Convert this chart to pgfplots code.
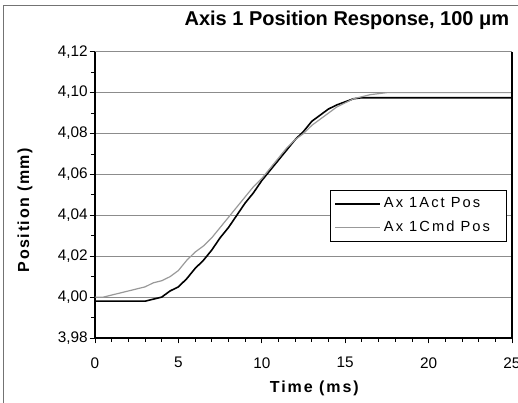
\documentclass[border=0pt]{standalone}
\usepackage{pgfplots}
\pgfplotsset{compat=1.18}
\usepackage{fontspec}
\setmainfont{Liberation Sans}

\begin{document}
\begin{tikzpicture}
\begin{axis}[
  name=ax,
  width=312.75pt, height=214.7pt, scale only axis,
  xmin=0, xmax=25, ymin=3.98, ymax=4.12,
  xtick={0,5,10,15,20,25},
  ytick={3.98,4.00,4.02,4.04,4.06,4.08,4.10,4.12},
  minor x tick num=4, minor y tick num=1,
  axis lines=left, axis line style={-, black, line width=0.8pt},
  tick align=outside, major tick length=4pt, minor tick length=3pt,
  tick style={black, line width=0.6pt},
  ymajorgrids, major grid style={black!45, line width=0.6pt},
  /pgf/number format/assume math mode=true,
  yticklabel style={/pgf/number format/fixed, /pgf/number format/precision=2,
    /pgf/number format/fixed zerofill, /pgf/number format/use comma, xshift=2pt},
  xticklabel style={yshift=-7pt},
  tick label style={font=\fontsize{11.5}{13}\selectfont},
  title={Axis 1 Position Response, 100 μm},
  title style={at={(0.604,1.082)}, anchor=center, font=\bfseries\fontsize{15}{18}\selectfont},
  xlabel={Time (ms)},
  xlabel style={at={(0.526,-0.175)}, anchor=center, font=\bfseries\fontsize{12}{14}\selectfont\addfontfeature{LetterSpace=12}},
  ylabel={Position (mm)},
  ylabel style={at={(-0.168,0.447)}, anchor=center, font=\bfseries\fontsize{12}{14}\selectfont\addfontfeature{LetterSpace=10}},
  legend style={at={(rel axis cs:0.988,0.517)}, anchor=north east, draw=black, line width=0.6pt,
    fill=white, font=\fontsize{11}{13}\selectfont\addfontfeature{LetterSpace=14},
    inner xsep=3pt, inner ysep=3.5pt, row sep=4.5pt},
  legend cell align=left,
  legend image code/.code={\draw[#1] (0pt,0pt) -- (34pt,0pt);},
  clip=false,
]
% Ax1 actual position
\addplot[black, line width=1.2pt] coordinates {
  (0,3.998) (3.0,3.998) (3.5,3.999) (4.0,4.000) (4.5,4.003) (5.0,4.005)
  (5.5,4.009) (6.0,4.014) (6.5,4.018) (7.0,4.023) (7.5,4.029) (8.0,4.034)
  (8.5,4.040) (9.0,4.046) (9.5,4.051) (10.0,4.057) (10.5,4.062) (11.0,4.067)
  (11.5,4.072) (12.0,4.077) (12.5,4.081) (13.0,4.086) (13.5,4.089) (14.0,4.092)
  (14.5,4.094) (15.0,4.0955) (15.5,4.097) (16.0,4.0975) (25,4.0975)};
\addlegendentry{\makebox[87pt][l]{Ax 1Act Pos}}
% Ax1 commanded position
\addplot[black!40, line width=0.9pt] coordinates {
  (0,4.000) (0.5,4.000) (1.0,4.001) (1.5,4.002) (2.0,4.003) (2.5,4.004)
  (3.0,4.005) (3.5,4.007) (4.0,4.008) (4.5,4.010) (5.0,4.013) (5.5,4.018)
  (6.0,4.022) (6.5,4.025) (7.0,4.029) (7.5,4.034) (8.0,4.039) (8.5,4.044)
  (9.0,4.049) (9.5,4.054) (10.0,4.058) (10.5,4.063) (11.0,4.068) (11.5,4.073)
  (12.0,4.077) (12.5,4.080) (13.0,4.084) (13.5,4.087) (14.0,4.090) (14.5,4.093)
  (15.0,4.095) (15.5,4.097) (16.0,4.098) (16.5,4.099) (17.0,4.0995) (17.5,4.100)
  (25,4.100)};
\addlegendentry{\makebox[87pt][l]{Ax 1Cmd Pos}}
% right border of the plot area
\draw[black, line width=0.8pt] (rel axis cs:1,0) -- (rel axis cs:1,1);
\end{axis}
\pgfresetboundingbox
\path[use as bounding box] ([xshift=-71.25pt,yshift=-48.75pt]ax.south west)
  rectangle ([xshift=4.5pt,yshift=38.8pt]ax.north east);
\draw[black!55, line width=0.6pt] ([xshift=-69pt,yshift=-80pt]ax.south west)
  -- ([xshift=-69pt,yshift=35pt]ax.north west) -- ([xshift=60pt,yshift=35pt]ax.north east);
\end{tikzpicture}
\end{document}
